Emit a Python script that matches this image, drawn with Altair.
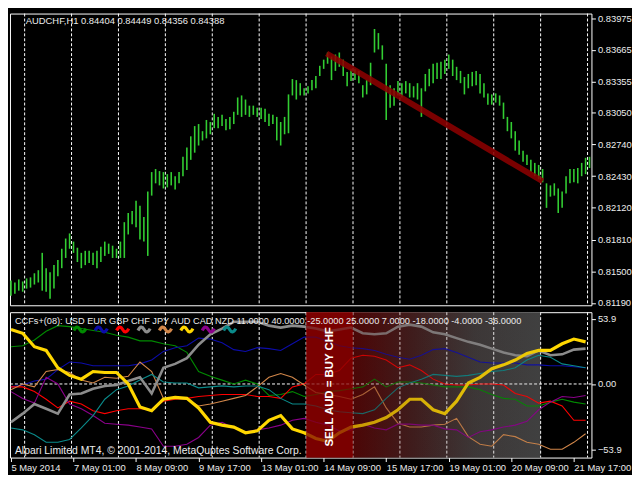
import altair as alt
import pandas as pd

FONT = "Liberation Sans"
FG = "#ececec"

# ---------------- main window: AUDCHF H1 ----------------
HEADER = "AUDCHF,H1  0.84404 0.84449 0.84356 0.84388"
BAR_HOURS = list(range(0, 297, 2))
BAR_HIGH = [
    0.8141, 0.8139, 0.8142, 0.8140, 0.8143, 0.8144, 0.8148, 0.8151, 0.8168, 0.8153,
    0.8149, 0.8156, 0.8161, 0.8172, 0.8182, 0.8187, 0.8179, 0.8173, 0.8168, 0.8170,
    0.8170, 0.8168, 0.8170, 0.8174, 0.8179, 0.8177, 0.8175, 0.8172, 0.8179, 0.8198,
    0.8207, 0.8209, 0.8219, 0.8214, 0.8203, 0.8228, 0.8247, 0.8250, 0.8248, 0.8247,
    0.8245, 0.8247, 0.8243, 0.8247, 0.8262, 0.8271, 0.8282, 0.8292, 0.8294, 0.8287,
    0.8298, 0.8296, 0.8304, 0.8301, 0.8303, 0.8299, 0.8301, 0.8306, 0.8320, 0.8322,
    0.8318, 0.8312, 0.8312, 0.8310, 0.8310, 0.8309, 0.8304, 0.8303, 0.8301, 0.8296,
    0.8301, 0.8323, 0.8338, 0.8337, 0.8334, 0.8329, 0.8331, 0.8337, 0.8341, 0.8351,
    0.8357, 0.8364, 0.8360, 0.8362, 0.8364, 0.8357, 0.8345, 0.8348, 0.8348, 0.8346,
    0.8332, 0.8337, 0.8354, 0.8387, 0.8383, 0.8371, 0.8353, 0.8332, 0.8329, 0.8336,
    0.8334, 0.8336, 0.8334, 0.8331, 0.8334, 0.8329, 0.8343, 0.8348, 0.8353, 0.8354,
    0.8355, 0.8357, 0.8362, 0.8357, 0.8350, 0.8346, 0.8340, 0.8343, 0.8345, 0.8346,
    0.8343, 0.8334, 0.8324, 0.8323, 0.8324, 0.8322, 0.8315, 0.8301, 0.8296, 0.8287,
    0.8278, 0.8268, 0.8264, 0.8259, 0.8256, 0.8254, 0.8250, 0.8236, 0.8234, 0.8236,
    0.8231, 0.8228, 0.8243, 0.8250, 0.8250, 0.8251, 0.8256, 0.8261, 0.8262,
]
BAR_LOW = [
    0.8126, 0.8128, 0.8131, 0.8130, 0.8133, 0.8134, 0.8137, 0.8139, 0.8131, 0.8130,
    0.8123, 0.8133, 0.8145, 0.8153, 0.8163, 0.8172, 0.8168, 0.8159, 0.8153, 0.8156,
    0.8158, 0.8156, 0.8153, 0.8159, 0.8165, 0.8167, 0.8163, 0.8163, 0.8163, 0.8163,
    0.8186, 0.8196, 0.8193, 0.8181, 0.8179, 0.8165, 0.8224, 0.8236, 0.8234, 0.8231,
    0.8232, 0.8234, 0.8230, 0.8236, 0.8243, 0.8249, 0.8259, 0.8266, 0.8273, 0.8278,
    0.8280, 0.8284, 0.8290, 0.8290, 0.8292, 0.8288, 0.8289, 0.8294, 0.8303, 0.8301,
    0.8303, 0.8301, 0.8303, 0.8301, 0.8299, 0.8296, 0.8292, 0.8294, 0.8278, 0.8273,
    0.8284, 0.8285, 0.8322, 0.8318, 0.8322, 0.8322, 0.8324, 0.8327, 0.8329, 0.8341,
    0.8348, 0.8353, 0.8337, 0.8346, 0.8350, 0.8341, 0.8331, 0.8336, 0.8337, 0.8334,
    0.8320, 0.8323, 0.8332, 0.8364, 0.8367, 0.8357, 0.8298, 0.8310, 0.8312, 0.8322,
    0.8320, 0.8324, 0.8320, 0.8320, 0.8318, 0.8301, 0.8326, 0.8331, 0.8334, 0.8338,
    0.8338, 0.8343, 0.8348, 0.8341, 0.8337, 0.8334, 0.8323, 0.8329, 0.8331, 0.8332,
    0.8324, 0.8320, 0.8313, 0.8313, 0.8315, 0.8312, 0.8299, 0.8287, 0.8280, 0.8268,
    0.8264, 0.8257, 0.8254, 0.8247, 0.8243, 0.8240, 0.8237, 0.8212, 0.8223, 0.8224,
    0.8207, 0.8212, 0.8226, 0.8236, 0.8237, 0.8236, 0.8243, 0.8245, 0.8251,
]
PRICE_TICKS = [0.83975, 0.83665, 0.83355, 0.83050, 0.82740,
               0.82430, 0.82120, 0.81810, 0.81500, 0.81190]
PRICE_DOMAIN = [0.81167, 0.84021]
TREND_HOURS = [161.5, 272.0]
TREND_PRICES = [0.8363, 0.8238]

DAY_GRID_HOURS = [7, 31, 55, 79, 103, 127, 151, 175, 199, 223, 247, 271, 295]
TIME_TICK_HOURS = [0, 32, 64, 96, 128, 160, 192, 224, 256, 288]
TIME_LABELS = ["5 May 2014", "7 May 01:00", "8 May 09:00", "9 May 17:00",
               "13 May 01:00", "14 May 09:00", "15 May 17:00", "19 May 01:00",
               "20 May 09:00", "21 May 17:00"]
HOUR_DOMAIN = [-0.5, 297]

# ---------------- indicator window: CCFs+ ----------------
CCF_HOURS = list(range(0, 295, 6))
CURRENCIES = ["USD", "EUR", "GBP", "CHF", "JPY", "AUD", "CAD", "NZD"]
COLORS = ["#008a00", "#0c0caa", "#ff0000", "#8c8c8c", "#d2874a", "#ffd700", "#8b008b", "#0a8a8a"]
USD = [30.8, 31.6, 36.3, 43.5, 48.2, 47.4, 45.8, 44.2, 42.7, 40.3,
       38.7, 35.6, 35.6, 33.2, 31.6, 26.1, 10.3, 6.3, 3.2, 0.0,
       3.2, 0.0, -9.5, -8.7, -6.3, -10.3, -8.7, -6.3, -5.5, -4.0,
       -2.4, 4.0, -2.4, 1.6, 1.6, 0.8, -0.8, -2.4, -2.4, -2.4,
       -4.7, -8.7, -11.9, -12.6, -18.2, -18.2, -15.0, -12.6, -15.0, -16.6]
EUR = [-2.4, -0.8, 2.4, 4.0, 11.9, 18.2, 17.4, 15.0, 15.0, 15.0,
       15.0, 16.6, 19.8, 26.9, 30.0, 31.6, 37.9, 37.1, 34.0, 28.4,
       26.9, 30.0, 29.2, 27.7, 33.2, 38.7, 38.7, 35.6, 31.6, 30.0,
       29.2, 27.7, 24.5, 22.1, 20.5, 23.7, 28.4, 29.2, 26.1, 22.1,
       18.2, 17.4, 17.4, 17.4, 15.8, 15.8, 15.0, 15.0, 14.2, 13.4]
GBP = [-2.4, -2.4, -6.3, -12.6, -19.8, -14.2, -16.6, -22.1, -24.5, -22.1,
       -20.5, -20.5, -21.3, -14.2, -12.6, -11.9, -10.3, -9.5, -8.7, -8.7,
       -8.7, -10.3, -10.3, -11.9, -2.4, 0.0, 7.9, 7.9, 11.1, 21.3,
       23.7, 22.9, 19.8, 13.4, 15.8, 11.1, 4.0, 0.0, -0.8, -0.8,
       0.0, 0.0, -0.8, -7.9, -10.3, -15.8, -14.2, -18.2, -30.0, -30.0]
CHF = [-31.6, -24.5, -16.6, -20.5, -24.5, -8.7, -7.9, -4.0, -1.6, -0.8,
       2.4, 5.5, -7.9, 13.4, 16.6, 21.3, 32.4, 41.1, 45.8, 51.4,
       51.4, 51.4, 48.2, 46.6, 48.2, 47.4, 45.8, 43.5, 45.0, 46.6,
       41.9, 41.1, 41.9, 47.4, 49.0, 47.4, 42.7, 41.1, 37.9, 34.8,
       32.4, 29.2, 26.1, 23.7, 22.9, 27.7, 23.7, 24.5, 28.4, 29.2]
JPY = [-4.7, 0.0, -2.4, 10.3, 11.9, 9.5, 3.2, 0.8, 5.5, 4.7,
       6.3, 18.2, 10.3, -11.9, -11.9, -12.6, -18.2, -16.6, -14.2, -11.9,
       -9.5, -2.4, 5.5, 8.7, 5.5, -0.8, -7.1, -8.7, -10.3, -12.6,
       -8.7, -2.4, -19.8, -32.4, -35.6, -35.6, -34.0, -33.2, -28.4, -43.5,
       -49.8, -51.4, -41.9, -43.5, -48.2, -49.8, -53.9, -53.9, -48.2, -41.1]
AUD = [45.0, 41.9, 30.8, 27.7, 13.4, 7.1, 4.0, 10.3, 9.5, 9.5,
       0.0, -19.0, -22.1, -12.6, -11.1, -11.9, -19.8, -31.6, -34.0, -35.6,
       -40.3, -38.7, -30.0, -26.1, -37.1, -40.3, -45.0, -47.4, -40.3, -35.6,
       -34.0, -31.6, -27.7, -21.3, -12.6, -12.6, -21.3, -24.5, -14.2, 0.8,
       5.5, 12.6, 15.8, 19.8, 25.3, 27.7, 27.7, 33.2, 37.1, 34.8]
CAD = [-6.3, -11.9, -15.8, 5.5, 0.0, -16.6, -20.5, -26.1, -32.4, -33.2,
       -34.0, -35.6, -37.1, -51.4, -51.4, -49.8, -44.2, -34.0, -31.6, -36.3,
       -39.5, -37.9, -36.3, -34.0, -30.0, -28.4, -31.6, -34.0, -38.7, -37.9,
       -33.2, -36.3, -37.9, -33.2, -33.2, -34.0, -34.0, -37.1, -37.9, -44.2,
       -39.5, -37.9, -35.6, -34.0, -30.8, -21.3, -15.0, -10.3, -11.1, -9.5]
NZD = [-36.3, -37.9, -41.9, -48.2, -48.2, -45.8, -36.3, -26.1, -12.6, -4.7,
       -1.6, 3.2, 7.9, 1.6, 0.8, 0.8, -3.2, -2.4, -1.6, -2.4,
       -1.6, -1.6, -4.7, -11.9, -16.6, -16.6, -18.2, -21.3, -22.9, -23.7,
       -24.5, -21.3, -11.9, -3.2, 0.8, 4.0, 7.9, 7.1, 6.3, 7.1,
       8.7, 10.3, 11.1, 13.4, 19.8, 23.7, 22.1, 16.6, 15.0, 13.4]
CCF_TITLE = ("CCFs+(08): USD EUR GBP CHF JPY AUD CAD NZD 11.0000 40.0000 "
             "-25.0000 25.0000 7.0000 -18.0000 -4.0000 -36.0000")
CCF_TICKS = [53.9, 0.0, -53.9]
CCF_DOMAIN = [-60.8, 59.3]
SIGNAL_START, SIGNAL_SOLID_END, SIGNAL_END = 151, 175, 271
SIGNAL_TEXT = "SELL AUD = BUY CHF"
SIGNAL_TEXT_AT = (163, -2.4)
COPYRIGHT = "Alpari Limited MT4, \u00a9 2001-2014, MetaQuptes Software Corp."

# ---------------- tables ----------------
bars = pd.DataFrame({"hour": BAR_HOURS, "high": BAR_HIGH, "low": BAR_LOW})
grid_df = pd.DataFrame({"hour": DAY_GRID_HOURS})
trend_df = pd.DataFrame({"hour": [TREND_HOURS[0]], "h1": [TREND_HOURS[1]],
                         "low": [TREND_PRICES[0]], "p1": [TREND_PRICES[1]]})
series = dict(zip(CURRENCIES, [USD, EUR, GBP, CHF, JPY, AUD, CAD, NZD]))
rows = []
for cur in CURRENCIES:
    for h, v in zip(CCF_HOURS, series[cur]):
        rows.append({"cur": cur, "hour": h, "v": v})
lines_df = pd.DataFrame(rows)
legend_df = pd.DataFrame({"cur": CURRENCIES, "i": list(range(len(CURRENCIES)))})

X_SCALE = alt.Scale(domain=HOUR_DOMAIN, nice=False, zero=False)
PRICE_SCALE = alt.Scale(domain=PRICE_DOMAIN, nice=False, zero=False)
CCF_SCALE = alt.Scale(domain=CCF_DOMAIN, nice=False, zero=False)
COLOR_SCALE = alt.Scale(domain=CURRENCIES, range=COLORS)

PRICE_AXIS = alt.Axis(orient="right", values=PRICE_TICKS, format=".5f", title=None,
                      labelOverlap=False, labelFlush=False)
x_label_expr = "[" + ",".join("'%s'" % s for s in TIME_LABELS) + "][round(datum.value/32)]"
TIME_AXIS = alt.Axis(orient="bottom", values=TIME_TICK_HOURS, labelExpr=x_label_expr,
                     labelAlign="left", labelFlush=False, labelOverlap=False,
                     labelPadding=1, title=None)
CCF_AXIS = alt.Axis(orient="right", values=CCF_TICKS, labelOverlap=False, labelFlush=False,
                    title=None,
                    labelExpr="datum.value == 0 ? '0.00' : format(datum.value, '.1f')")

W, H_MAIN, H_CCF = 588, 295, 147


def xm(field):
    return alt.X(field, scale=X_SCALE, axis=None)


def xl(field):
    return alt.X(field, scale=X_SCALE, axis=TIME_AXIS)


def yl(field):
    return alt.Y(field, scale=CCF_SCALE, axis=CCF_AXIS)


# ---------------- main panel ----------------
grid_main = alt.Chart(grid_df).mark_rule(color="#ffffff", strokeDash=[3, 2], strokeWidth=1).encode(
    x=xm("hour:Q"))

bar_layer = alt.Chart(bars).mark_rule(color="#32cd32", strokeWidth=1.6).encode(
    x=xm("hour:Q"),
    y=alt.Y("low:Q", scale=PRICE_SCALE, axis=PRICE_AXIS),
    y2="high:Q")

trend = alt.Chart(trend_df).mark_rule(color="#8b0000", strokeWidth=6, opacity=0.88).encode(
    x=xm("hour:Q"), x2="h1:Q",
    y=alt.Y("low:Q", scale=PRICE_SCALE, axis=PRICE_AXIS), y2="p1:Q")

header = alt.Chart(pd.DataFrame({"t": [HEADER]})).mark_text(
    align="left", baseline="middle", font=FONT, fontSize=9.5, color=FG).encode(
    x=alt.value(16), y=alt.value(7.7), text="t:N")

main = alt.layer(grid_main, bar_layer, trend, header).properties(width=W, height=H_MAIN)

# ---------------- indicator panel ----------------
solid = (SIGNAL_SOLID_END - SIGNAL_START) / (SIGNAL_END - SIGNAL_START)
BASE_GRADIENT = {
    "gradient": "linear", "x1": 0, "y1": 0, "x2": 1, "y2": 0,
    "stops": [
        {"offset": 0, "color": "#7a0000"},
        {"offset": solid, "color": "#7a0000"},
        {"offset": solid, "color": "#4c0606"},
        {"offset": 0.45, "color": "#3e1c1c"},
        {"offset": 0.72, "color": "#3c3838"},
        {"offset": 1, "color": "#404040"},
    ],
}
OVERLAY_GRADIENT = {
    "gradient": "linear", "x1": 0, "y1": 0, "x2": 1, "y2": 0,
    "stops": [
        {"offset": 0, "color": "rgba(122,0,0,0.72)"},
        {"offset": solid, "color": "rgba(122,0,0,0.72)"},
        {"offset": solid, "color": "rgba(76,6,6,0.3)"},
        {"offset": 0.6, "color": "rgba(62,40,40,0.18)"},
        {"offset": 1, "color": "rgba(64,64,64,0.08)"},
    ],
}
block_df = pd.DataFrame({"hour": [SIGNAL_START], "h1": [SIGNAL_END],
                         "v": [CCF_DOMAIN[0]], "hi": [CCF_DOMAIN[1]]})

block = alt.Chart(block_df).mark_rect(fill=BASE_GRADIENT).encode(
    x=xl("hour:Q"), x2="h1:Q", y=yl("v:Q"), y2="hi:Q")
overlay = alt.Chart(block_df).mark_rect(fill=OVERLAY_GRADIENT).encode(
    x=xl("hour:Q"), x2="h1:Q", y=yl("v:Q"), y2="hi:Q")

grid_ccf = alt.Chart(grid_df).mark_rule(color="#ffffff", strokeDash=[3, 2], strokeWidth=1).encode(
    x=xl("hour:Q"))
zero_line = alt.Chart(pd.DataFrame({"v": [0.0]})).mark_rule(
    color="#ffffff", strokeDash=[3, 2], strokeWidth=1).encode(y=yl("v:Q"))

thin = alt.Chart(lines_df).transform_filter(
    alt.FieldOneOfPredicate(field="cur", oneOf=["USD", "EUR", "GBP", "JPY", "CAD", "NZD"])
).mark_line(strokeWidth=1.1).encode(
    x=xl("hour:Q"), y=yl("v:Q"),
    color=alt.Color("cur:N", scale=COLOR_SCALE, legend=None),
    detail="cur:N")

chf = alt.Chart(lines_df).transform_filter(alt.datum.cur == "CHF").mark_line(strokeWidth=2.6).encode(
    x=xl("hour:Q"), y=yl("v:Q"),
    color=alt.Color("cur:N", scale=COLOR_SCALE, legend=None))
aud = alt.Chart(lines_df).transform_filter(alt.datum.cur == "AUD").mark_line(strokeWidth=3.2).encode(
    x=xl("hour:Q"), y=yl("v:Q"),
    color=alt.Color("cur:N", scale=COLOR_SCALE, legend=None))

ccf_title = alt.Chart(pd.DataFrame({"t": [CCF_TITLE]})).mark_text(
    align="left", baseline="middle", font=FONT, fontSize=9.3, color=FG).encode(
    x=alt.value(5), y=alt.value(8.5), text="t:N")

WAVE = "M-1,0.15 C-0.65,-0.55 -0.3,-0.55 0,0 C0.3,0.55 0.65,0.55 1,-0.15"
glyphs = alt.Chart(legend_df).transform_calculate(
    hour="35.25 + 10.95 * datum.i"
).mark_point(shape=WAVE, filled=False, size=150, strokeWidth=3.2, opacity=1).encode(
    x=xl("hour:Q"),
    y=alt.value(17.5),
    color=alt.Color("cur:N", scale=COLOR_SCALE, legend=None))

copyright_txt = alt.Chart(pd.DataFrame({"t": [COPYRIGHT]})).mark_text(
    align="left", baseline="middle", font=FONT, fontSize=10.5, color=FG).encode(
    x=alt.value(5), y=alt.value(140), text="t:N")

signal_txt = alt.Chart(pd.DataFrame({"hour": [SIGNAL_TEXT_AT[0]], "v": [SIGNAL_TEXT_AT[1]],
                                     "t": [SIGNAL_TEXT]})).mark_text(
    angle=270, align="center", baseline="middle", font=FONT,
    fontWeight="bold", fontSize=11.5, color="#ffffff").encode(
    x=xl("hour:Q"), y=yl("v:Q"), text="t:N")

lower = alt.layer(block, grid_ccf, zero_line, thin, chf, aud, overlay,
                  ccf_title, glyphs, copyright_txt, signal_txt).properties(width=W, height=H_CCF)

chart = alt.vconcat(main, lower, spacing=3).properties(
    background="#000000",
    padding={"left": -4, "top": 2, "right": 0, "bottom": 0},
).configure_view(
    stroke="#ffffff", strokeWidth=1
).configure_axis(
    labelFont=FONT, labelColor=FG, labelFontSize=9.5, tickColor="#ffffff",
    tickSize=4, domain=False, grid=False, labelPadding=2
)

chart.save("out.html", embed_options={"renderer": "svg", "actions": False})
